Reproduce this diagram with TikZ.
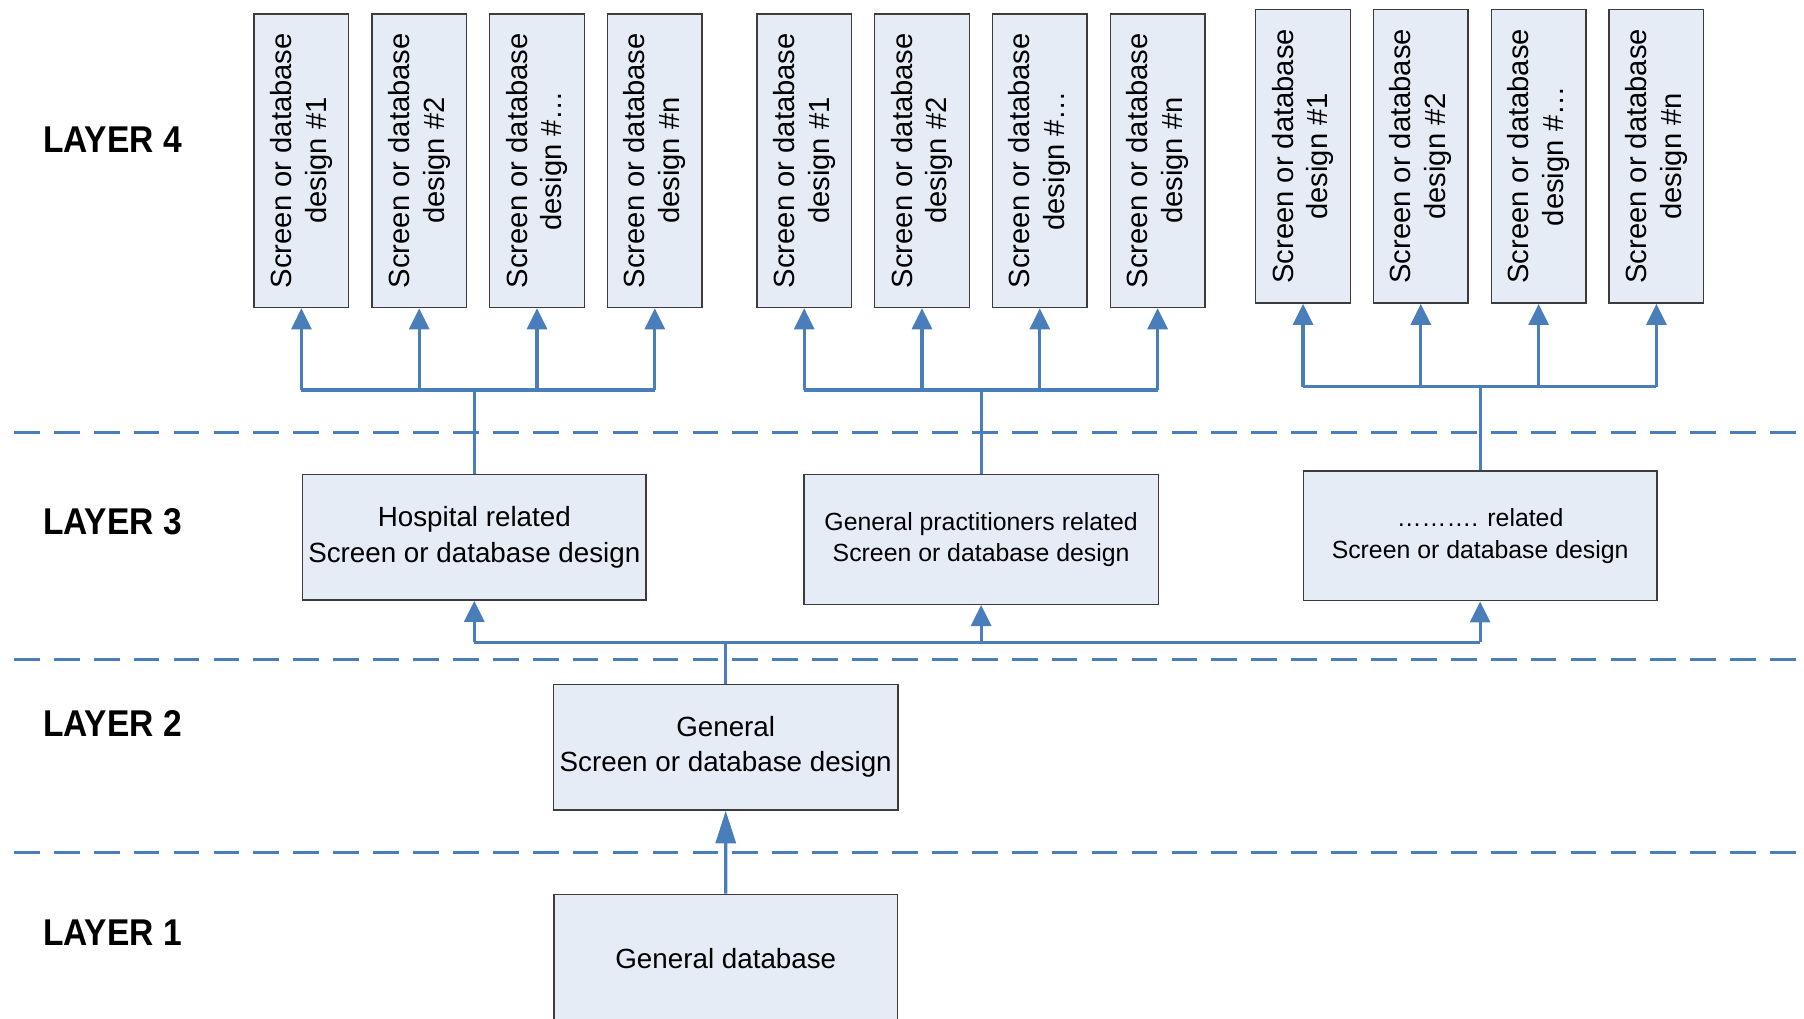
\documentclass[tikz,border=0pt]{standalone}
\usepackage{fontspec}
\setmainfont{Liberation Sans}
\newfontfamily\layerfont[FakeStretch=0.9]{Liberation Sans}
\usetikzlibrary{arrows.meta}
\definecolor{linkblue}{RGB}{74,126,187}
\definecolor{boxfill}{RGB}{230,236,246}
\definecolor{boxline}{RGB}{60,60,60}
\tikzset{
  >={Triangle[length=6pt,width=5.7pt]},
  designbox/.style={draw=boxline, line width=0.4pt, fill=boxfill, rotate=90,
    inner sep=0pt, minimum width=2.936cm, minimum height=0.946cm,
    align=center, font=\fontsize{8.3}{9.9}\selectfont},
  layerbox/.style={draw=boxline, line width=0.4pt, fill=boxfill,
    inner sep=0pt, align=center, font=\fontsize{7.9}{10}\selectfont},
  smalltext/.style={font=\fontsize{7.06}{9.05}\selectfont},
  conn/.style={draw=linkblue, line width=0.9pt},
  layerline/.style={draw=linkblue, line width=0.85pt, dash pattern=on 7.3pt off 4.05pt},
  layerlabel/.style={anchor=west, inner sep=0pt,
    font=\layerfont\bfseries\fontsize{10.6}{12}\selectfont}
}
\begin{document}
\begin{tikzpicture}[x=0.01cm, y=0.01cm]
  \useasboundingbox (0,0) rectangle (1804,1018);
  \clip (0,0) rectangle (1804,1018);

  % LAYER SEPARATORS
  \foreach \y in {585.3, 358.7, 165.7}
    \draw[layerline] (14,\y) -- (1796,\y);

  % LAYER LABELS
  \node[layerlabel] (l4) at (42.5,878.7) {LAYER 4};
  \node[layerlabel] (l3) at (42.5,496.7) {LAYER 3};
  \node[layerlabel] (l2) at (42.5,294.2) {LAYER 2};
  \node[layerlabel] (l1) at (42.5,84.9) {LAYER 1};

  % LAYER 1 AND 2
  \node[layerbox, minimum width=3.437cm, minimum height=1.28cm] (db) at (725.8,59.7) {General database};
  \node[layerbox, minimum width=3.443cm, minimum height=1.255cm] (gen) at (725.7,270.8) {General\\Screen or database design};

  % LAYER 3
  \node[layerbox, minimum width=3.433cm, minimum height=1.253cm] (hosp) at (474.3,480.6) {Hospital related\\Screen or database design};
  \node[layerbox, smalltext, minimum width=3.54cm, minimum height=1.296cm] (gp) at (981.1,478.5) {General practitioners related\\Screen or database design};
  \node[layerbox, smalltext, minimum width=3.532cm, minimum height=1.297cm] (other) at (1480.1,482.2) {………. related\\Screen or database design};

  % LAYER 4
  \foreach \g/\x/\y in {a/301.4/857.3, b/804.2/857.3, c/1303/861.7}
    \foreach \i/\t in {1/1, 2/2, 3/…, 4/n}
      \node[designbox] (\g\i) at ({\x+(\i-1)*117.8},\y) {Screen or database\\design \#\t};

  % CONNECTORS 1 -> 2 -> 3
  \coordinate (jl) at (725.7,375.7);
  \draw[conn, -{Triangle[length=9.3pt,width=5.7pt]}] (db.north) -- (gen.south);
  \draw[conn] (gen.north) -- (jl);
  \draw[conn] (hosp.south |- jl) -- (other.south |- jl);
  \foreach \b in {hosp, gp, other}
    \draw[conn, ->] (\b.south |- jl) -- (\b.south);

  % CONNECTORS 3 -> 4
  \coordinate (ja) at (474.3,628);
  \coordinate (jb) at (980.8,628);
  \coordinate (jc) at (1480.1,631.3);
  \foreach \b/\g in {hosp/a, gp/b, other/c} {
    \draw[conn] (\b.north) -- (\b.north |- j\g);
    \draw[conn] (\g1.west |- j\g) -- (\g4.west |- j\g);
    \foreach \i in {1,...,4}
      \draw[conn, ->] (\g\i.west |- j\g) -- (\g\i.west);
  }
\end{tikzpicture}
\end{document}
